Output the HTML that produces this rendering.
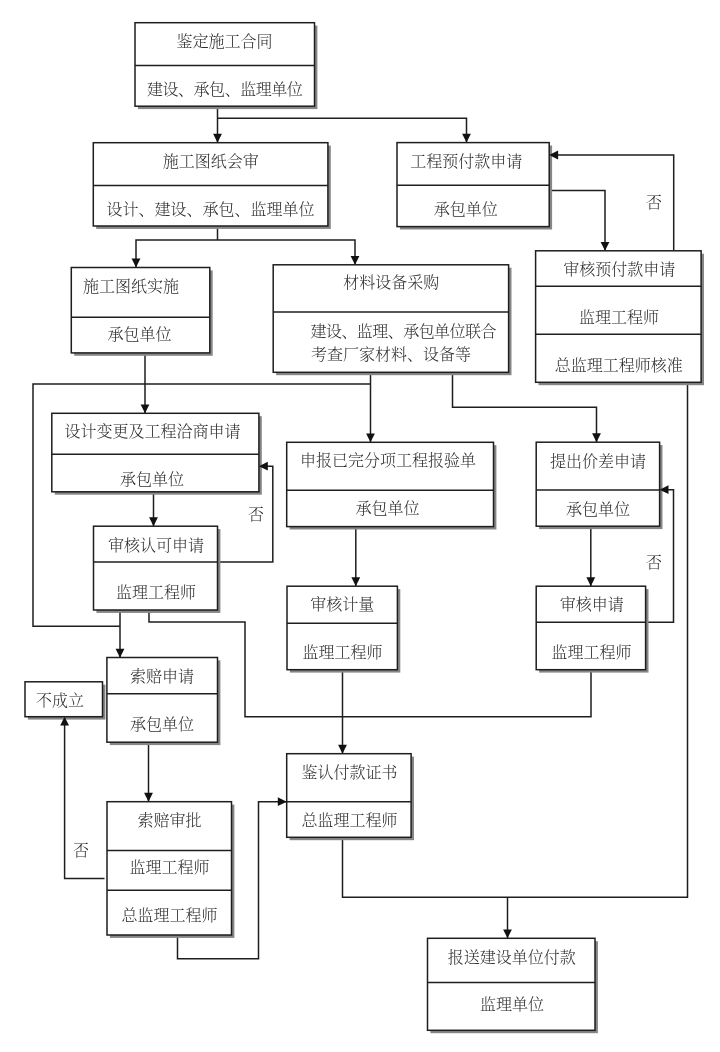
<!DOCTYPE html>
<html lang="zh-CN"><head><meta charset="utf-8"><title>工程流程图</title>
<style>
html,body{margin:0;padding:0;background:#fff;}
body{width:720px;height:1052px;overflow:hidden;}
svg{display:block;filter:grayscale(1);}
text{font-family:"Liberation Serif", "Noto Serif CJK SC", serif;font-size:16px;fill:#2e2e2e;font-weight:300;text-anchor:middle;dominant-baseline:central;}
.ln{fill:none;stroke:#1e1e1e;stroke-width:1.5;}
.bx{fill:#fff;stroke:#1e1e1e;stroke-width:1.5;}
.sh{fill:#868686;}
.ah{fill:#111;stroke:none;}
</style></head><body>
<svg width="720" height="1052" viewBox="0 0 720 1052">
<rect width="720" height="1052" fill="#fff"/>

<g class="ln">
<path d="M217.5,106 L217.5,142.7"/>
<path d="M217.5,118.3 L466.5,118.3 L466.5,142.6"/>
<path d="M217.5,226 L217.5,240"/>
<path d="M136,267.5 L136,240 L355,240 L355,264.8"/>
<path d="M549.2,190.6 L605,190.6 L605,250.8"/>
<path d="M673.7,250.8 L673.7,155 L549.2,155"/>
<path d="M687.5,382 L687.5,897.3 L342.5,897.3 L342.5,837"/>
<path d="M507.5,897.3 L507.5,938.3"/>
<path d="M145,352.9 L145,413.3"/>
<path d="M370.5,372 L370.5,442.3"/>
<path d="M370.5,384 L33,384 L33,626.2 L120,626.2"/>
<path d="M452.5,372 L452.5,407.3 L596.5,407.3 L596.5,442.2"/>
<path d="M590.8,526 L590.8,586.2"/>
<path d="M645.6,622.3 L673.5,622.3 L673.5,489.7 L659.6,489.7"/>
<path d="M591,669.7 L591,716.7 L245,716.7 L245,622 L149,622 L149,610"/>
<path d="M153.5,491.8 L153.5,526.2"/>
<path d="M217.5,562 L272.8,562 L272.8,466.2 L258.9,466.2"/>
<path d="M120,610 L120,657.7"/>
<path d="M148.5,742 L148.5,801.7"/>
<path d="M104.5,878.5 L64.6,878.5 L64.6,716.7"/>
<path d="M177.5,935 L177.5,958.7 L258.5,958.7 L258.5,801.7 L286.7,801.7"/>
<path d="M355.8,526 L355.8,586.2"/>
<path d="M342.5,669.7 L342.5,753.7"/>
</g>
<g id="b1">
<rect class="sh" x="137.9" y="25.599999999999998" width="179.5" height="83.5"/>
<rect class="bx" x="135" y="22.7" width="179.5" height="83.5"/>
<line class="ln" x1="135" y1="65.6" x2="314.5" y2="65.6"/>
<text x="224.55" y="41.80">鉴定施工合同</text>
<text x="224.67" y="89.60" letter-spacing="-0.47">建设、承包、监理单位</text>
</g>
<g id="b2">
<rect class="sh" x="96.2" y="145.6" width="234.59999999999997" height="83.30000000000001"/>
<rect class="bx" x="93.3" y="142.7" width="234.59999999999997" height="83.30000000000001"/>
<line class="ln" x1="93.3" y1="185.4" x2="327.9" y2="185.4"/>
<text x="210.85" y="161.30">施工图纸会审</text>
<text x="210.40" y="209.60">设计、建设、承包、监理单位</text>
</g>
<g id="b5">
<rect class="sh" x="399.9" y="145.5" width="152.20000000000005" height="84.0"/>
<rect class="bx" x="397" y="142.6" width="152.20000000000005" height="84.0"/>
<line class="ln" x1="397" y1="185.3" x2="549.2" y2="185.3"/>
<text x="466.25" y="161.60">工程预付款申请</text>
<text x="465.75" y="209.20">承包单位</text>
</g>
<g id="b3">
<rect class="sh" x="74.2" y="270.4" width="138.5" height="85.39999999999998"/>
<rect class="bx" x="71.3" y="267.5" width="138.5" height="85.39999999999998"/>
<line class="ln" x1="71.3" y1="317.3" x2="209.8" y2="317.3"/>
<text x="131.00" y="286.30">施工图纸实施</text>
<text x="139.50" y="334.30">承包单位</text>
</g>
<g id="b4">
<rect class="sh" x="276.09999999999997" y="267.7" width="235.40000000000003" height="107.5"/>
<rect class="bx" x="273.2" y="264.8" width="235.40000000000003" height="107.5"/>
<line class="ln" x1="273.2" y1="312" x2="508.6" y2="312"/>
<text x="391.25" y="282.80">材料设备采购</text>
</g>
<g id="b6">
<rect class="sh" x="538.5" y="253.70000000000002" width="165.5" height="131.5"/>
<rect class="bx" x="535.6" y="250.8" width="165.5" height="131.5"/>
<line class="ln" x1="535.6" y1="286.3" x2="701.1" y2="286.3"/>
<line class="ln" x1="535.6" y1="334.2" x2="701.1" y2="334.2"/>
<text x="619.25" y="269.80">审核预付款申请</text>
<text x="619.00" y="317.30">监理工程师</text>
<text x="618.75" y="365.50">总监理工程师核准</text>
</g>
<g id="b7">
<rect class="sh" x="54.699999999999996" y="416.2" width="207.09999999999997" height="78.5"/>
<rect class="bx" x="51.8" y="413.3" width="207.09999999999997" height="78.5"/>
<line class="ln" x1="51.8" y1="454.2" x2="258.9" y2="454.2"/>
<text x="152.50" y="431.60">设计变更及工程洽商申请</text>
<text x="152.00" y="479.10">承包单位</text>
</g>
<g id="b8">
<rect class="sh" x="289.59999999999997" y="445.2" width="206.8" height="84.30000000000001"/>
<rect class="bx" x="286.7" y="442.3" width="206.8" height="84.30000000000001"/>
<line class="ln" x1="286.7" y1="490.2" x2="493.5" y2="490.2"/>
<text x="388.00" y="460.60">申报已完分项工程报验单</text>
<text x="387.50" y="508.80">承包单位</text>
</g>
<g id="b9">
<rect class="sh" x="539.1" y="445.09999999999997" width="123.39999999999998" height="84.00000000000006"/>
<rect class="bx" x="536.2" y="442.2" width="123.39999999999998" height="84.00000000000006"/>
<line class="ln" x1="536.2" y1="490" x2="659.6" y2="490"/>
<text x="598.00" y="461.10">提出价差申请</text>
<text x="598.00" y="509.00">承包单位</text>
</g>
<g id="b11">
<rect class="sh" x="96.4" y="529.1" width="124.0" height="83.79999999999995"/>
<rect class="bx" x="93.5" y="526.2" width="124.0" height="83.79999999999995"/>
<line class="ln" x1="93.5" y1="562" x2="217.5" y2="562"/>
<text x="156.00" y="545.10">审核认可申请</text>
<text x="156.00" y="592.60">监理工程师</text>
</g>
<g id="b16">
<rect class="sh" x="289.9" y="589.1" width="110.39999999999998" height="83.5"/>
<rect class="bx" x="287" y="586.2" width="110.39999999999998" height="83.5"/>
<line class="ln" x1="287" y1="623.2" x2="397.4" y2="623.2"/>
<text x="342.25" y="604.60">审核计量</text>
<text x="342.50" y="652.60">监理工程师</text>
</g>
<g id="b10">
<rect class="sh" x="539.1" y="589.1" width="109.39999999999998" height="83.5"/>
<rect class="bx" x="536.2" y="586.2" width="109.39999999999998" height="83.5"/>
<line class="ln" x1="536.2" y1="622.3" x2="645.6" y2="622.3"/>
<text x="591.75" y="604.60">审核申请</text>
<text x="591.50" y="652.60">监理工程师</text>
</g>
<g id="b12">
<rect class="sh" x="109.80000000000001" y="660.4" width="110.6" height="84.70000000000005"/>
<rect class="bx" x="106.9" y="657.5" width="110.6" height="84.70000000000005"/>
<line class="ln" x1="106.9" y1="693.7" x2="217.5" y2="693.7"/>
<text x="162.00" y="676.60">索赔申请</text>
<text x="162.00" y="724.10">承包单位</text>
</g>
<g id="bn">
<rect class="sh" x="27.9" y="684.6999999999999" width="77.5" height="34.90000000000009"/>
<rect class="bx" x="25" y="681.8" width="77.5" height="34.90000000000009"/>
<text x="60.00" y="700.10">不成立</text>
</g>
<g id="b15">
<rect class="sh" x="289.59999999999997" y="756.6" width="124.40000000000003" height="83.59999999999991"/>
<rect class="bx" x="286.7" y="753.7" width="124.40000000000003" height="83.59999999999991"/>
<line class="ln" x1="286.7" y1="801.7" x2="411.1" y2="801.7"/>
<text x="349.50" y="772.80">鉴认付款证书</text>
<text x="349.50" y="820.30">总监理工程师</text>
</g>
<g id="b14">
<rect class="sh" x="109.9" y="804.6" width="124.5" height="133.29999999999995"/>
<rect class="bx" x="107" y="801.7" width="124.5" height="133.29999999999995"/>
<line class="ln" x1="107" y1="850.5" x2="231.5" y2="850.5"/>
<line class="ln" x1="107" y1="890.2" x2="231.5" y2="890.2"/>
<text x="169.50" y="820.30">索赔审批</text>
<text x="169.50" y="867.80">监理工程师</text>
<text x="169.50" y="915.60">总监理工程师</text>
</g>
<g id="b13">
<rect class="sh" x="430.4" y="941.1999999999999" width="167.5" height="92.0"/>
<rect class="bx" x="427.5" y="938.3" width="167.5" height="92.0"/>
<line class="ln" x1="427.5" y1="982.6" x2="595" y2="982.6"/>
<text x="511.75" y="957.60">报送建设单位付款</text>
<text x="512.00" y="1004.60">监理单位</text>
</g>
<g class="ah">
<polygon points="217.5,142.7 213.1,133.8 221.9,133.8"/>
<polygon points="466.5,142.6 462.1,133.7 470.9,133.7"/>
<polygon points="355.0,264.8 350.6,255.9 359.4,255.9"/>
<polygon points="136.0,267.5 131.6,258.6 140.4,258.6"/>
<polygon points="605.0,250.8 600.6,241.9 609.4,241.9"/>
<polygon points="549.2,155.0 558.1,150.6 558.1,159.4"/>
<polygon points="507.5,938.3 503.1,929.4 511.9,929.4"/>
<polygon points="145.0,413.3 140.6,404.4 149.4,404.4"/>
<polygon points="370.5,442.3 366.1,433.4 374.9,433.4"/>
<polygon points="596.5,442.2 592.1,433.3 600.9,433.3"/>
<polygon points="590.8,586.2 586.4,577.3 595.2,577.3"/>
<polygon points="659.6,489.7 668.5,485.3 668.5,494.1"/>
<polygon points="153.5,526.2 149.1,517.3 157.9,517.3"/>
<polygon points="258.9,466.2 267.8,461.8 267.8,470.6"/>
<polygon points="120.0,657.7 115.6,648.8 124.4,648.8"/>
<polygon points="148.5,801.7 144.1,792.8 152.9,792.8"/>
<polygon points="64.6,716.7 69.0,725.6 60.2,725.6"/>
<polygon points="286.7,801.7 277.8,806.1 277.8,797.3"/>
<polygon points="355.8,586.2 351.4,577.3 360.2,577.3"/>
<polygon points="342.5,753.7 338.1,744.8 346.9,744.8"/>
</g>
<text x="654.00" y="202.80">否</text>
<text x="256.00" y="514.80">否</text>
<text x="654.00" y="562.30">否</text>
<text x="81.00" y="850.30">否</text>
<text x="403.23" y="331.10" letter-spacing="-0.55">建设、监理、承包单位联合</text>
<text x="391.00" y="354.60">考查厂家材料、设备等</text>
</svg></body></html>
